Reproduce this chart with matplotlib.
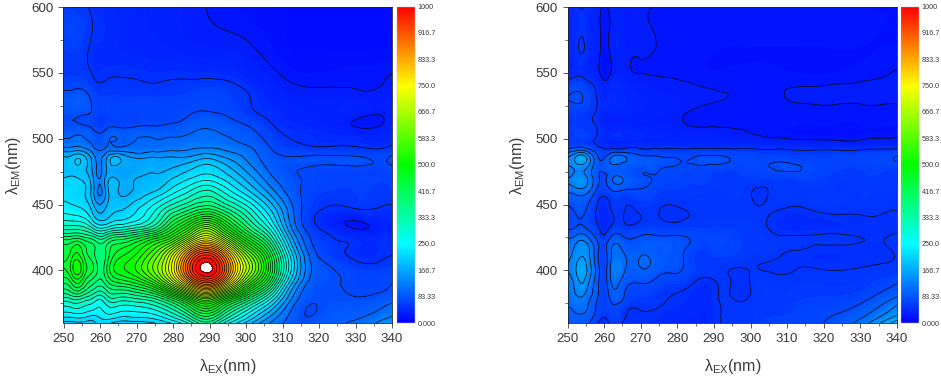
import numpy as np
import matplotlib
matplotlib.use("Agg")
import matplotlib.pyplot as plt
import matplotlib.tri as mtri
from matplotlib.cm import ScalarMappable
from matplotlib.colors import LinearSegmentedColormap, Normalize

plt.rcParams["font.family"] = ["Liberation Sans", "DejaVu Sans"]
plt.rcParams["mathtext.default"] = "regular"

ex = [250, 252, 254, 256, 258, 260, 262, 265, 270, 275, 280, 285, 289, 293, 297, 302, 307, 312, 320, 330, 340]
em = [360, 365, 372, 380, 390, 402, 415, 425, 432, 445, 460, 470, 478, 485, 492, 500, 510, 520, 530, 545, 570, 600]

# rows follow em, columns follow ex
left = np.array([
    [190, 190, 195, 190, 190, 210, 205, 190, 190, 200, 230, 290, 340, 290, 230, 170, 120, 90, 85, 105, 150],
    [230, 230, 235, 230, 220, 230, 240, 230, 230, 240, 280, 350, 400, 350, 280, 210, 145, 95, 80, 95, 125],
    [270, 275, 280, 270, 260, 250, 270, 270, 270, 290, 340, 430, 490, 430, 350, 270, 190, 110, 76, 85, 110],
    [330, 340, 350, 330, 310, 290, 320, 330, 340, 370, 450, 570, 640, 570, 480, 370, 260, 140, 78, 75, 85],
    [400, 420, 450, 410, 380, 360, 390, 420, 450, 520, 650, 810, 890, 820, 680, 520, 370, 190, 80, 70, 75],
    [450, 480, 520, 460, 430, 390, 430, 490, 530, 610, 740, 940, 1012, 945, 780, 620, 440, 240, 85, 60, 62],
    [440, 450, 470, 430, 410, 380, 410, 450, 490, 560, 670, 830, 900, 830, 690, 540, 390, 210, 68, 45, 48],
    [385, 385, 390, 375, 360, 335, 355, 380, 410, 460, 530, 650, 720, 650, 540, 420, 310, 165, 60, 42, 46],
    [315, 315, 315, 305, 275, 250, 260, 280, 305, 350, 450, 550, 620, 550, 450, 350, 260, 135, 50, 24, 40],
    [245, 240, 235, 225, 195, 170, 185, 200, 225, 275, 340, 390, 420, 390, 340, 275, 200, 115, 50, 45, 45],
    [215, 215, 210, 200, 160, 120, 165, 175, 180, 200, 240, 280, 305, 280, 240, 190, 135, 90, 62, 60, 60],
    [200, 205, 200, 190, 155, 125, 165, 170, 175, 180, 200, 225, 240, 225, 195, 150, 105, 82, 68, 65, 65],
    [185, 190, 195, 180, 145, 120, 155, 165, 165, 170, 175, 195, 210, 195, 165, 125, 90, 78, 72, 72, 72],
    [180, 185, 200, 180, 140, 120, 155, 180, 150, 155, 155, 160, 175, 160, 140, 110, 85, 78, 80, 80, 80],
    [135, 135, 140, 130, 110, 95, 110, 110, 110, 115, 120, 125, 130, 125, 115, 100, 75, 62, 56, 55, 58],
    [100, 102, 108, 100, 90, 80, 95, 98, 100, 100, 102, 108, 110, 106, 98, 85, 65, 50, 44, 42, 44],
    [78, 78, 78, 75, 70, 62, 68, 70, 72, 74, 78, 88, 95, 90, 82, 70, 52, 42, 36, 24, 34],
    [82, 80, 80, 78, 72, 62, 64, 66, 66, 68, 70, 74, 76, 74, 66, 52, 44, 38, 34, 32, 32],
    [85, 85, 90, 85, 70, 62, 62, 62, 62, 62, 62, 66, 70, 68, 60, 48, 38, 33, 30, 30, 30],
    [60, 62, 62, 60, 52, 48, 50, 51, 50, 48, 50, 50, 51, 50, 46, 38, 30, 24, 22, 23, 26],
    [60, 62, 60, 55, 46, 44, 42, 40, 38, 36, 34, 31, 30, 29, 28, 25, 20, 15, 13, 13, 14],
    [58, 58, 56, 54, 45, 42, 40, 38, 36, 34, 32, 28, 25, 23, 20, 17, 15, 14, 13, 13, 14],
], dtype=float)

right = np.array([
    [80, 85, 85, 75, 55, 42, 55, 50, 45, 42, 40, 38, 42, 52, 52, 58, 62, 66, 75, 110, 190],
    [90, 95, 95, 85, 65, 52, 62, 55, 48, 44, 42, 40, 42, 52, 52, 56, 60, 62, 72, 95, 155],
    [100, 105, 110, 95, 72, 60, 70, 60, 52, 50, 45, 42, 42, 52, 52, 56, 58, 60, 66, 80, 130],
    [110, 120, 125, 105, 80, 62, 85, 80, 60, 55, 48, 42, 44, 52, 47, 55, 56, 58, 60, 66, 100],
    [115, 130, 150, 120, 85, 62, 100, 90, 75, 65, 60, 48, 46, 52, 46, 55, 54, 54, 54, 56, 75],
    [125, 145, 165, 135, 90, 65, 108, 110, 100, 86, 80, 60, 56, 52, 50, 50, 48, 49, 49, 50, 54],
    [120, 130, 145, 125, 85, 65, 100, 100, 95, 88, 82, 62, 62, 66, 60, 56, 54, 50, 46, 47, 51],
    [95, 105, 115, 95, 70, 55, 78, 78, 78, 78, 78, 72, 70, 68, 60, 56, 52, 52, 52, 50, 52],
    [72, 76, 80, 70, 58, 40, 55, 58, 60, 60, 60, 60, 60, 60, 58, 54, 46, 42, 44, 46, 48],
    [70, 76, 80, 65, 48, 38, 50, 52, 52, 50, 48, 52, 54, 54, 53, 52, 50, 46, 52, 52, 50],
    [105, 110, 115, 100, 70, 60, 72, 72, 72, 60, 58, 56, 55, 55, 56, 48, 55, 55, 55, 55, 55],
    [125, 135, 140, 115, 85, 70, 95, 100, 78, 72, 66, 62, 60, 58, 58, 60, 62, 62, 60, 58, 58],
    [120, 130, 135, 115, 85, 85, 90, 85, 80, 78, 72, 70, 68, 66, 66, 70, 78, 78, 66, 62, 62],
    [125, 150, 170, 130, 85, 75, 105, 110, 85, 80, 75, 78, 80, 78, 72, 70, 68, 65, 65, 68, 78],
    [75, 85, 90, 75, 60, 52, 52, 52, 52, 52, 52, 52, 52, 52, 52, 50, 50, 48, 48, 48, 52],
    [54, 58, 60, 56, 48, 42, 42, 42, 40, 38, 36, 34, 33, 32, 31, 28, 26, 24, 23, 23, 26],
    [54, 56, 56, 54, 48, 36, 36, 36, 34, 31, 28, 24, 24, 24, 24, 24, 22, 20, 20, 20, 20],
    [58, 60, 60, 55, 48, 38, 38, 38, 34, 31, 28, 23, 22, 22, 22, 22, 22, 22, 22, 22, 22],
    [75, 78, 76, 62, 50, 40, 44, 42, 36, 32, 30, 28, 26, 25, 23, 22, 23, 26, 27, 27, 27],
    [50, 54, 54, 46, 38, 24, 34, 35, 27, 26, 25, 23, 22, 22, 22, 22, 22, 22, 22, 24, 28],
    [42, 44, 52, 42, 34, 20, 30, 32, 27, 24, 23, 22, 21, 20, 20, 20, 20, 20, 20, 20, 20],
    [42, 44, 52, 42, 35, 22, 32, 33, 27, 24, 23, 22, 21, 20, 20, 20, 20, 20, 20, 20, 20],
], dtype=float)

cbar_ticks = [0, 83.33, 166.7, 250, 333.3, 416.7, 500, 583.3, 666.7, 750, 833.3, 916.7, 1000]
cbar_labels = ["0.000", "83.33", "166.7", "250.0", "333.3", "416.7", "500.0", "583.3", "666.7", "750.0", "833.3", "916.7", "1000"]

W, H = 941, 380
txt = "#3c3c3c"
cmap = LinearSegmentedColormap.from_list("origin", ["#0000ff", "#00ffff", "#00ff00", "#ffff00", "#ff0000"])
fill_levels = np.linspace(0, 1000, 201)
line_levels = np.arange(25, 1001, 25)


def px_axes(fig, x0, x1, y0, y1):
    return fig.add_axes([x0 / W, 1 - y1 / H, (x1 - x0) / W, (y1 - y0) / H])


def panel(fig, z, ax_box, cbar_box):
    norm = Normalize(0, 1000)
    ax = px_axes(fig, *ax_box)
    xx, yy = np.meshgrid(ex, em)
    tri = mtri.Triangulation(xx.ravel(), yy.ravel())
    # smooth the hand-read grid with matplotlib's cubic refiner
    refiner = mtri.UniformTriRefiner(tri)
    tri_f, z_f = refiner.refine_field(z.ravel(), subdiv=3)
    ax.tricontourf(tri_f, z_f, levels=fill_levels, cmap=cmap, norm=norm)
    ax.tricontour(tri_f, z_f, levels=line_levels, colors="black", linewidths=0.5)
    ax.set_xlim(250, 340)
    ax.set_ylim(360, 600)
    ax.set_xticks(np.arange(250, 341, 10))
    ax.set_yticks(np.arange(400, 601, 50))
    ax.set_yticks(np.arange(375, 600, 50), minor=True)
    ax.set_xticks(np.arange(255, 340, 10), minor=True)
    ax.tick_params(axis="both", which="major", labelsize=9.6, length=3.5, width=0.6, colors=txt, pad=3.5)
    ax.tick_params(axis="both", which="minor", length=2, width=0.5, colors=txt)
    ax.set_xlabel(r"λ$_{EX}$(nm)", fontsize=11.5, color=txt, labelpad=9)
    ax.set_ylabel(r"λ$_{EM}$(nm)", fontsize=11.5, color=txt, labelpad=6)
    for s in ax.spines.values():
        s.set_linewidth(0.6)
        s.set_color("#222222")

    cax = px_axes(fig, *cbar_box)
    cb = fig.colorbar(ScalarMappable(norm=norm, cmap=cmap), cax=cax)
    cb.set_ticks(cbar_ticks, labels=cbar_labels)
    cb.ax.minorticks_off()
    cb.ax.tick_params(labelsize=5.2, length=0, pad=2, colors=txt)
    cb.outline.set_linewidth(0.3)
    cb.outline.set_edgecolor("#bbbbbb")


fig = plt.figure(figsize=(W / 100, H / 100), dpi=100)
panel(fig, left, (63.5, 392, 7, 323), (396.5, 415, 6.5, 323))
panel(fig, right, (567.5, 897, 7, 323), (901, 919, 6.5, 323))
fig.savefig("out.png", dpi=100)
